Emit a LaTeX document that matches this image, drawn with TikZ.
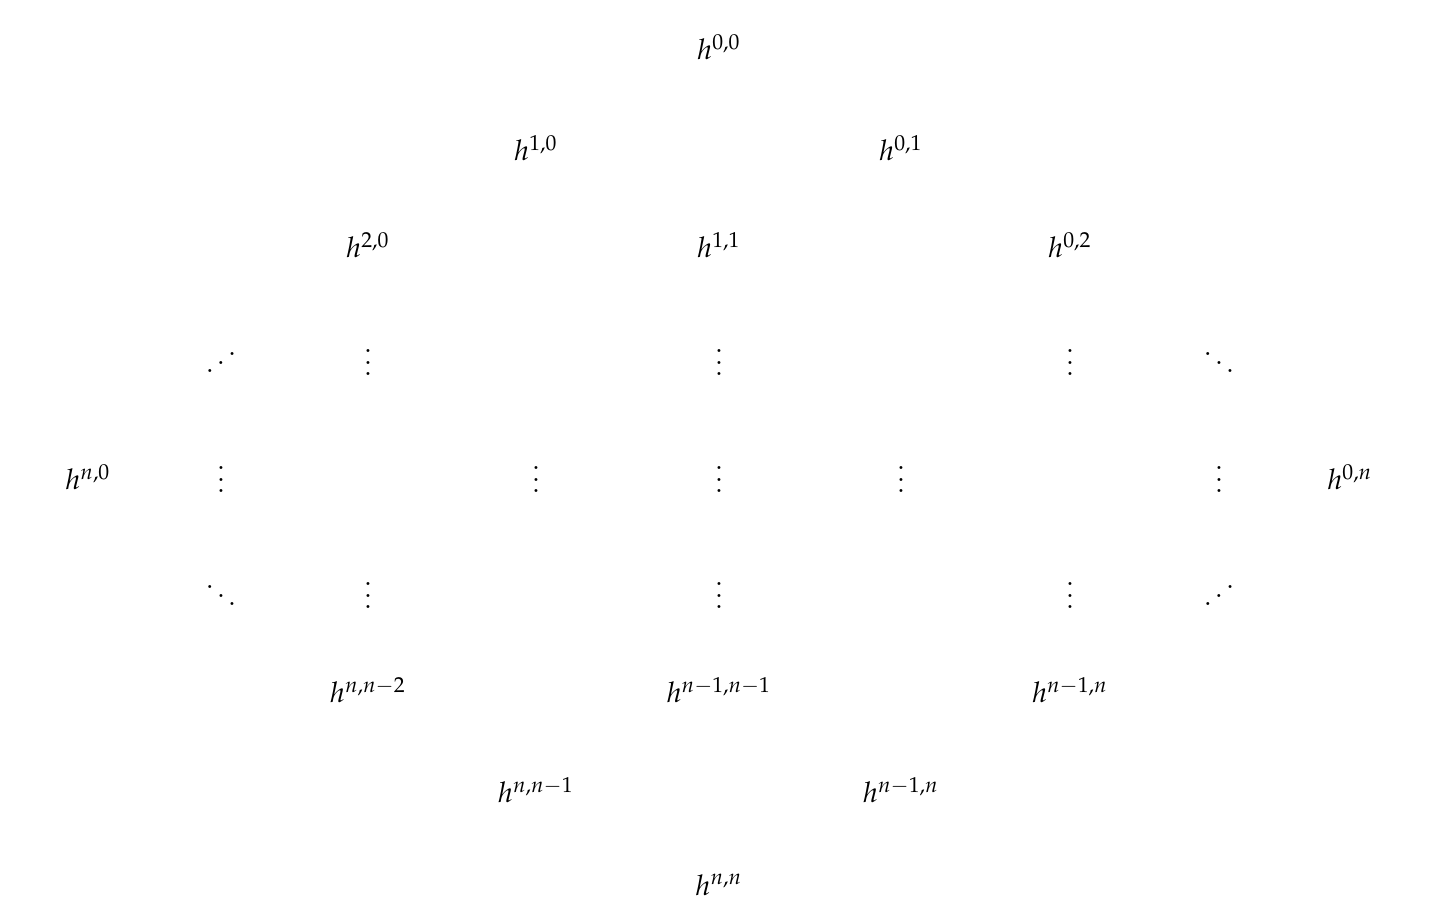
\documentclass[tikz,border=0pt]{standalone}
\usepackage{mathpazo}
\usepackage{graphicx}
\usetikzlibrary{positioning}
\newcommand{\updots}{\reflectbox{$\ddots$}}

\begin{document}
\begin{tikzpicture}[x=0.011715cm, y=-0.011715cm,
    hodge/.style={inner sep=1pt, scale=0.95}]
    \useasboundingbox (0,0) rectangle (1448,920);
    % numbers of the diamond
    \foreach \x/\y/\nm/\t in {719/47/h00/{h^{0,0}},
                            536/148/h10/{h^{1,0}}, 901/148/h01/{h^{0,1}},
                            368/245/h20/{h^{2,0}}, 719/245/h11/{h^{1,1}}, 1070/245/h02/{h^{0,2}},
                            88/477/hn0/{h^{n,0}}, 1350/477/h0n/{h^{0,n}},
                            368/690/hnm/{h^{n,n-2}}, 719/690/hmm/{h^{n-1,n-1}}, 1070/690/hmn/{h^{n-1,n}},
                            536/790/hnl/{h^{n,n-1}}, 901/790/hln/{h^{n-1,n}},
                            719/885/hnn/{h^{n,n}}
                            } {
        \node[hodge] (\nm) at (\x,\y) {$\t$};
    }
    % dots
    \foreach \x/\y/\nm/\t in {221/354/d1/\updots, 368/354/d2/\vdots, 719/354/d3/\vdots,
                            1070/354/d4/\vdots, 1219/354/d5/\ddots,
                            221/471/d6/\vdots, 536/471/d7/\vdots, 719/471/d8/\vdots,
                            901/471/d9/\vdots, 1219/471/d10/\vdots,
                            221/587/d11/\ddots, 368/587/d12/\vdots, 719/587/d13/\vdots,
                            1070/587/d14/\vdots, 1219/587/d15/\updots
                            } {
        \node[hodge] (\nm) at (\x,\y) {$\t$};
    }
\end{tikzpicture}
\end{document}
